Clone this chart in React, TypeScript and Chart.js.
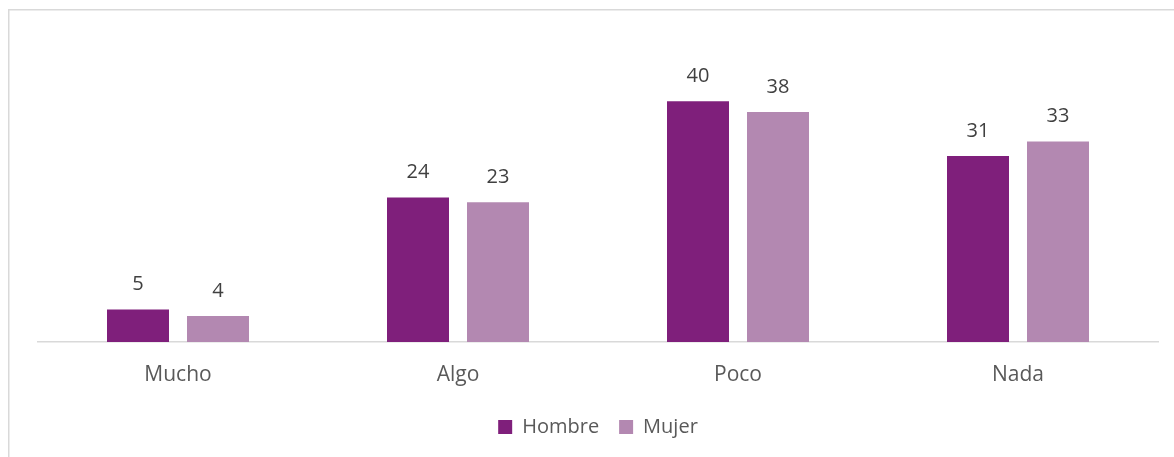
import React, { useEffect, useRef } from "react";
import { Chart, registerables } from "chart.js";

Chart.register(...registerables);

const categories = ["Mucho", "Algo", "Poco", "Nada"];
const hombreValues = [5.4, 24, 40, 30.9];
const mujerValues = [4.3, 23.2, 38.2, 33.3];
const seriesNames = ["Hombre", "Mujer"];

const FONT = "'Open Sans', 'DejaVu Sans', sans-serif";

const framePlugin = {
  id: "frame",
  beforeDraw(chart: any) {
    const ctx = chart.ctx;
    ctx.save();
    ctx.strokeStyle = "#D9D9D9";
    ctx.lineWidth = 1.5;
    ctx.beginPath();
    ctx.moveTo(8.75, chart.height);
    ctx.lineTo(8.75, 9.75);
    ctx.lineTo(chart.width, 9.75);
    ctx.stroke();
    ctx.restore();
  },
};

const valueLabelPlugin = {
  id: "valueLabels",
  afterDatasetsDraw(chart: any) {
    const ctx = chart.ctx;
    ctx.save();
    ctx.font = `20px ${FONT}`;
    ctx.fillStyle = "#404040";
    ctx.textAlign = "center";
    ctx.textBaseline = "middle";
    chart.data.datasets.forEach((ds: any, i: number) => {
      const meta = chart.getDatasetMeta(i);
      meta.data.forEach((bar: any, j: number) => {
        const v = ds.data[j];
        ctx.fillText(String(Math.round(v)), bar.x, bar.y - 25);
      });
    });
    ctx.restore();
  },
};

export default function App() {
  const ref = useRef<HTMLCanvasElement | null>(null);

  useEffect(() => {
    if (!ref.current) return;
    const chart = new Chart(ref.current, {
      type: "bar",
      data: {
        labels: categories,
        datasets: [
          {
            label: seriesNames[0],
            data: hombreValues,
            backgroundColor: "#7F1F7B",
            borderColor: "#7F1F7B",
            borderWidth: 0,
            categoryPercentage: 0.5714,
            barPercentage: 0.775,
          },
          {
            label: seriesNames[1],
            data: mujerValues,
            backgroundColor: "#B388B1",
            borderColor: "#B388B1",
            borderWidth: 0,
            categoryPercentage: 0.5714,
            barPercentage: 0.775,
          },
        ],
      },
      options: {
        animation: false,
        responsive: false,
        maintainAspectRatio: false,
        layout: { padding: { left: 38, right: 16, top: 41, bottom: 10 } },
        plugins: {
          legend: {
            display: true,
            position: "bottom",
            labels: {
              boxWidth: 14,
              boxHeight: 14,
              padding: 20,
              color: "#595959",
              font: { family: FONT, size: 20 },
            },
          },
          tooltip: { enabled: false },
        },
        scales: {
          x: {
            grid: { display: false, drawTicks: false },
            border: { display: true, color: "#D9D9D9", width: 1.5 },
            ticks: {
              padding: 20,
              color: "#595959",
              font: { family: FONT, size: 21 },
            },
            afterFit: (scale: any) => {
              scale.height = 55;
            },
          },
          y: {
            display: false,
            min: 0,
            max: 50,
          },
        },
      },
      plugins: [framePlugin, valueLabelPlugin],
    });
    return () => chart.destroy();
  }, []);

  return (
    <div style={{ position: "fixed", left: 0, top: 0, width: 1174, height: 457, background: "#fff" }}>
      <canvas ref={ref} width={1174} height={457} style={{ width: 1174, height: 457, display: "block" }} />
    </div>
  );
}
